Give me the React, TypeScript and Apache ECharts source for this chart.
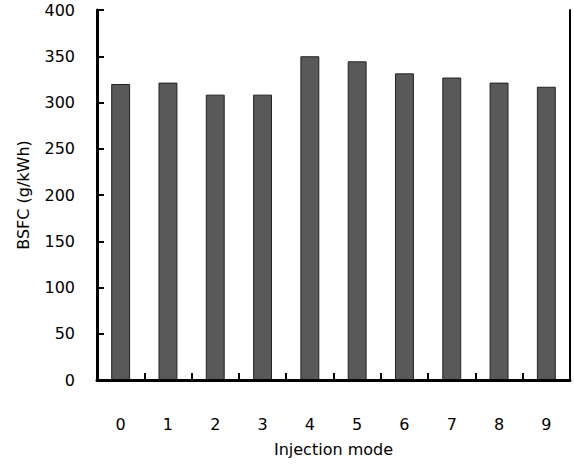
import React, { useEffect, useRef } from "react";
import * as echarts from "echarts";

const categories = ["0", "1", "2", "3", "4", "5", "6", "7", "8", "9"];
const bsfc = [320, 321.5, 308.5, 308.5, 350, 344.5, 331.5, 327, 321.5, 317];
const yTicks = { min: 0, max: 400, interval: 50 };

const FONT = "DejaVu Sans";

export default function App() {
  const ref = useRef<HTMLDivElement>(null);
  useEffect(() => {
    if (!ref.current) return;
    const chart = echarts.init(ref.current, null, { renderer: "svg" });
    chart.setOption({
      animation: false,
      backgroundColor: "#ffffff",
      grid: {
        left: 97,
        right: 4,
        top: 10,
        bottom: 84,
      },
      xAxis: [
        {
          type: "category",
          data: categories,
          name: "Injection mode",
          nameLocation: "middle",
          nameGap: 61,
          nameTextStyle: { fontFamily: FONT, fontSize: 16, color: "#000" },
          axisLine: { lineStyle: { color: "#000", width: 3 } },
          axisTick: { show: true, inside: true, length: 7, lineStyle: { color: "#000", width: 2 } },
          axisLabel: { margin: 36, fontFamily: FONT, fontSize: 16, color: "#000" },
          z: 5,
        },
        {
          type: "category",
          data: categories,
          position: "top",
          axisLine: { lineStyle: { color: "#000", width: 2 } },
          axisTick: { show: false },
          axisLabel: { show: false },
        },
      ],
      yAxis: [
        {
          type: "value",
          min: yTicks.min,
          max: yTicks.max,
          interval: yTicks.interval,
          name: "BSFC (g/kWh)",
          nameLocation: "middle",
          nameGap: 66,
          nameTextStyle: { fontFamily: FONT, fontSize: 16, color: "#000" },
          axisLine: { show: true, lineStyle: { color: "#000", width: 3 } },
          axisTick: { show: true, inside: true, length: 7, lineStyle: { color: "#000", width: 2 } },
          axisLabel: { margin: 22, fontFamily: FONT, fontSize: 16, color: "#000" },
          splitLine: { show: false },
          z: 5,
        },
        {
          type: "value",
          min: yTicks.min,
          max: yTicks.max,
          interval: yTicks.interval,
          position: "right",
          axisLine: { show: true, lineStyle: { color: "#000", width: 2 } },
          axisTick: { show: false },
          axisLabel: { show: false },
          splitLine: { show: false },
        },
      ],
      series: [
        {
          type: "bar",
          data: bsfc,
          barWidth: "40%",
          itemStyle: { color: "#595959", borderColor: "#222", borderWidth: 1 },
        },
      ],
    });
    return () => chart.dispose();
  }, []);
  return <div ref={ref} style={{ width: 574, height: 464, position: "absolute", left: 0, top: 0 }} />;
}
